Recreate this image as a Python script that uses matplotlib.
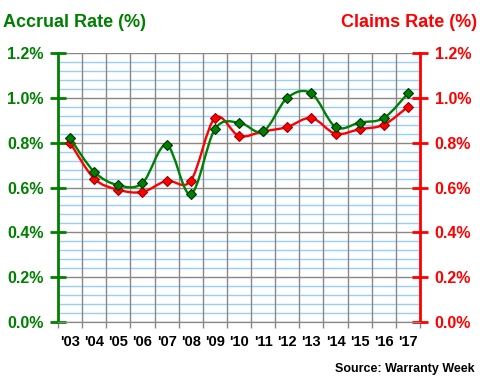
import numpy as np
import matplotlib
matplotlib.use('Agg')
from matplotlib import pyplot as plt
from matplotlib.path import Path
from matplotlib.patches import PathPatch
from matplotlib.ticker import MultipleLocator, FuncFormatter, FixedLocator

years = ["'03", "'04", "'05", "'06", "'07", "'08", "'09", "'10",
         "'11", "'12", "'13", "'14", "'15", "'16", "'17"]
accrual = [0.82, 0.67, 0.61, 0.62, 0.79, 0.57, 0.86, 0.89,
           0.85, 1.00, 1.02, 0.87, 0.89, 0.91, 1.02]
claims = [0.80, 0.64, 0.59, 0.58, 0.63, 0.63, 0.91, 0.83,
          0.85, 0.87, 0.91, 0.84, 0.86, 0.88, 0.96]

GREEN = '#008000'
RED = '#ff0000'
plt.rcParams['font.family'] = ['Liberation Sans', 'DejaVu Sans']
plt.rcParams['font.weight'] = 'bold'


def smooth_path(x, y):
    # Excel-like smoothed line: cubic Bezier through each point
    pts = np.column_stack([x, y])
    n = len(pts)
    verts = [pts[0]]
    codes = [Path.MOVETO]
    for i in range(n - 1):
        p0 = pts[max(i - 1, 0)]
        p1 = pts[i]
        p2 = pts[i + 1]
        p3 = pts[min(i + 2, n - 1)]
        c1 = p1 + (p2 - p0) / 6
        c2 = p2 - (p3 - p1) / 6
        verts += [c1, c2, p2]
        codes += [Path.CURVE4] * 3
    return Path(verts, codes)


fig = plt.figure(figsize=(4.8, 3.8), dpi=100)
ax = fig.add_axes([0.1208, 0.1526, 0.7542, 0.7079])
ax2 = ax.twinx()

x = np.arange(len(years))
for ys, col, ec, z in [(claims, RED, '#990000', 3), (accrual, GREEN, '#003300', 4)]:
    ax.add_patch(PathPatch(smooth_path(x, ys), fill=False, edgecolor=col, lw=1.7, zorder=z))
    ax.plot(x, ys, ls='none', marker='D', ms=5, mfc=col, mec=ec, mew=0.8, zorder=z + 0.5)

for a in (ax, ax2):
    a.set_ylim(0, 1.2)
    a.set_xlim(-0.5, len(years) - 0.5)

ax.yaxis.set_major_locator(MultipleLocator(0.2))
ax.yaxis.set_minor_locator(MultipleLocator(0.04))
ax2.yaxis.set_major_locator(MultipleLocator(0.2))
ax2.yaxis.set_minor_locator(MultipleLocator(0.04))
fmt = FuncFormatter(lambda v, p: '%.1f%%' % v)
ax.yaxis.set_major_formatter(fmt)
ax2.yaxis.set_major_formatter(fmt)

ax.grid(which='minor', axis='y', color='#99ccff', lw=1, zorder=0)
ax.grid(which='major', axis='y', color='#888888', lw=1, zorder=1)
bounds = np.arange(-0.5, len(years))
for b in bounds[1:-1]:
    ax.axvline(b, color='#888888', lw=1, zorder=1)
ax.set_axisbelow(True)

ax.set_xticks(x)
ax.set_xticklabels(years, fontsize=10.5, fontweight='bold')
ax.xaxis.set_minor_locator(FixedLocator(bounds))
ax.tick_params(axis='x', which='major', length=0, pad=9)
ax.tick_params(axis='x', which='minor', length=4, width=1, color='#888888')

ax.tick_params(axis='y', which='major', direction='inout', length=11, width=2,
               color=GREEN, labelcolor=GREEN, labelsize=11.5, pad=5)
ax.tick_params(axis='y', which='minor', length=0)
ax2.tick_params(axis='y', which='major', direction='inout', length=11, width=2,
                color=RED, labelcolor=RED, labelsize=11.5, pad=5)
ax2.tick_params(axis='y', which='minor', length=0)
ax2.tick_params(axis='x', which='both', length=0)

for a in (ax, ax2):
    a.spines['top'].set_visible(False)
    a.spines['bottom'].set_color('#888888')
    a.spines['left'].set_visible(False)
    a.spines['right'].set_visible(False)
ax.spines['left'].set_visible(True)
ax.spines['left'].set_color(GREEN)
ax.spines['left'].set_linewidth(2)
ax2.spines['right'].set_visible(True)
ax2.spines['right'].set_color(RED)
ax2.spines['right'].set_linewidth(2)
for l in ax.get_yticklabels():
    l.set_fontweight('bold')
for l in ax2.get_yticklabels():
    l.set_fontweight('bold')

fig.text(0.006, 0.942, 'Accrual Rate (%)', color=GREEN, fontsize=13, fontweight='bold',
         ha='left', va='center')
fig.text(0.994, 0.942, 'Claims Rate (%)', color=RED, fontsize=13, fontweight='bold',
         ha='right', va='center')
fig.text(0.988, 0.029, 'Source: Warranty Week', color='black', fontsize=9,
         fontweight='bold', ha='right', va='center')

fig.savefig('out.png', dpi=100)
